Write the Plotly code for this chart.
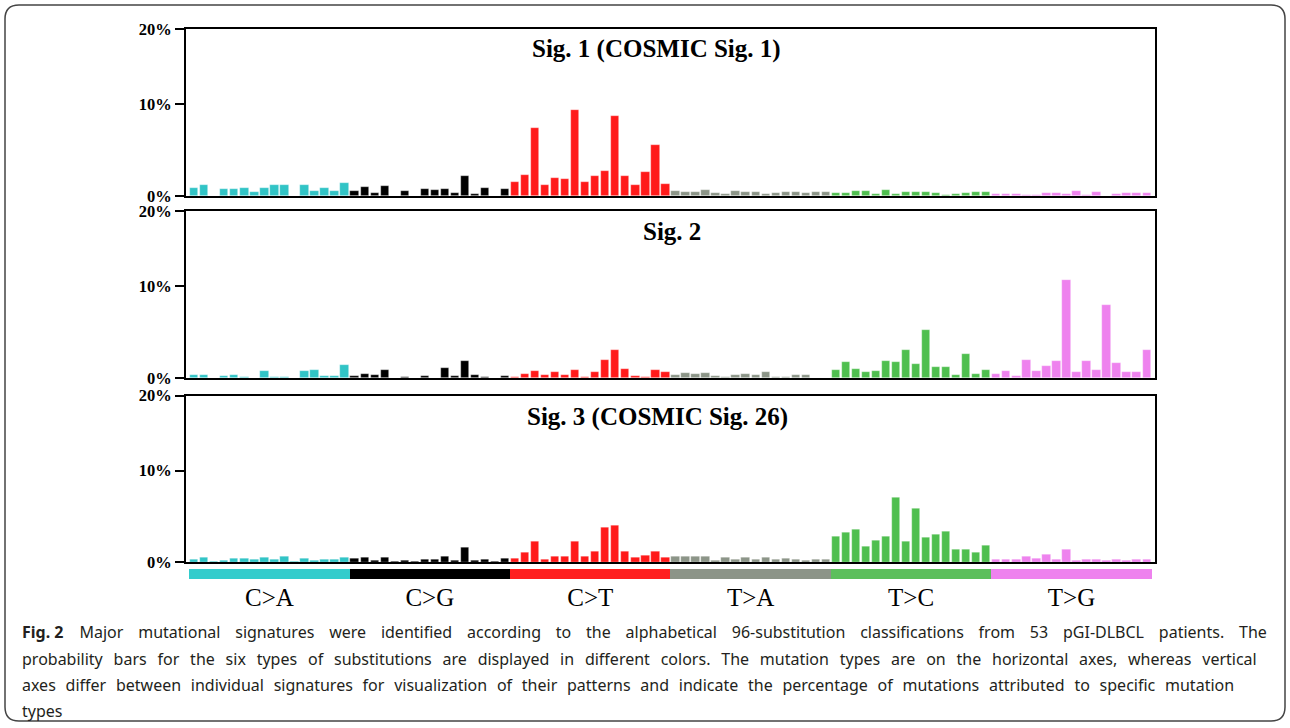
import plotly.graph_objects as go

# ---------------- data ----------------
groups = ["C>A", "C>G", "C>T", "T>A", "T>C", "T>G"]
group_colors = ["#31C4C6", "#000000", "#FF1A1A", "#8C9588", "#4FBF4F", "#EE82EE"]
strip_colors = ["#33CCCC", "#000000", "#FF1F1F", "#8C9488", "#5CBF5C", "#EE82EE"]

sig1_title = "Sig. 1 (COSMIC Sig. 1)"
sig2_title = "Sig. 2"
sig3_title = "Sig. 3 (COSMIC Sig. 26)"

sig1 = [0.90, 1.23, 0.05, 0.80, 0.72, 0.87, 0.40, 0.83, 1.23, 1.23, 0.05, 1.23, 0.58, 0.90, 0.54, 1.41,
        0.58, 0.98, 0.29, 1.05, 0.03, 0.50, 0.02, 0.76, 0.69, 0.80, 0.29, 2.20, 0.25, 0.87, 0.02, 0.80,
        1.52, 2.25, 7.40, 1.23, 1.96, 1.81, 9.38, 1.56, 2.17, 2.72, 8.70, 2.20, 1.23, 2.60, 5.54, 1.27,
        0.58, 0.47, 0.47, 0.69, 0.33, 0.18, 0.50, 0.40, 0.47, 0.22, 0.29, 0.43, 0.43, 0.29, 0.40, 0.43,
        0.29, 0.29, 0.54, 0.50, 0.18, 0.62, 0.25, 0.43, 0.40, 0.40, 0.29, 0.10, 0.18, 0.33, 0.40, 0.43,
        0.25, 0.25, 0.25, 0.14, 0.14, 0.36, 0.29, 0.25, 0.50, 0.10, 0.40, 0.03, 0.25, 0.33, 0.33, 0.33]

sig2 = [0.36, 0.33, 0.03, 0.22, 0.33, 0.15, 0.03, 0.72, 0.15, 0.10, 0.02, 0.80, 0.83, 0.22, 0.25, 1.41,
        0.22, 0.43, 0.29, 0.87, 0.02, 0.15, 0.02, 0.18, 0.02, 1.09, 0.18, 1.81, 0.33, 0.10, 0.02, 0.22,
        0.15, 0.43, 0.72, 0.36, 0.62, 0.29, 0.87, 0.07, 0.69, 1.96, 3.08, 0.98, 0.22, 0.15, 0.83, 0.69,
        0.33, 0.50, 0.40, 0.50, 0.22, 0.15, 0.29, 0.40, 0.29, 0.62, 0.15, 0.15, 0.33, 0.33, 0.02, 0.02,
        0.90, 1.74, 1.01, 0.69, 0.72, 1.81, 1.78, 3.00, 1.52, 5.18, 1.23, 1.20, 0.29, 2.60, 0.43, 0.83,
        0.47, 0.76, 0.22, 1.92, 0.80, 1.30, 1.81, 10.69, 0.69, 1.88, 0.83, 7.97, 1.63, 0.69, 0.69, 3.08]

sig3 = [0.22, 0.51, 0.02, 0.18, 0.36, 0.33, 0.22, 0.54, 0.25, 0.62, 0.02, 0.40, 0.14, 0.25, 0.29, 0.51,
        0.33, 0.51, 0.14, 0.54, 0.02, 0.14, 0.02, 0.22, 0.22, 0.58, 0.18, 1.56, 0.14, 0.29, 0.02, 0.36,
        0.36, 1.05, 2.21, 0.29, 0.62, 0.62, 2.25, 0.58, 1.16, 3.80, 4.02, 1.12, 0.47, 0.69, 1.12, 0.54,
        0.58, 0.58, 0.58, 0.58, 0.14, 0.54, 0.22, 0.47, 0.29, 0.54, 0.29, 0.36, 0.22, 0.18, 0.22, 0.22,
        2.79, 3.19, 3.51, 1.74, 2.39, 2.83, 7.03, 2.28, 5.87, 2.68, 3.00, 3.33, 1.38, 1.41, 1.05, 1.85,
        0.22, 0.22, 0.22, 0.62, 0.40, 0.87, 0.29, 1.41, 0.14, 0.22, 0.22, 0.11, 0.29, 0.11, 0.22, 0.22]

ytick_vals = [0, 10, 18.2]
ytick_text = ["0%", "10%", "20%"]

caption_lead = "<b>Fig. 2</b>"
caption_lines = [
    "Major mutational signatures were identified according to the alphabetical 96-substitution classifications from 53 pGI-DLBCL patients. The",
    "probability bars for the six types of substitutions are displayed in different colors. The mutation types are on the horizontal axes, whereas vertical",
    "axes differ between individual signatures for visualization of their patterns and indicate the percentage of mutations attributed to specific mutation",
    "types",
]
# word-gap strings approximating the justified caption lines
caption_gaps = [" \u2002\u2009", " \u2005\u2009", " \u2005\u200A", " "]

# ---------------- derived ----------------
n_per = 16
xs = list(range(len(groups) * n_per))
bar_colors = [group_colors[i // n_per] for i in xs]
strip_bar_colors = [strip_colors[i // n_per] for i in xs]
group_centers = [g * n_per + (n_per - 1) / 2 for g in range(len(groups))]

W, H = 1290, 728
def py(pix):
    return 1 - pix / H
def px(pix):
    return pix / W

x_dom = [px(186), px(1155)]
panel_doms = [[py(196), py(29)], [py(378), py(211)], [py(562), py(395.5)]]
strip_dom = [py(579), py(569)]
x_range = [-0.82, 95.83]

fig = go.Figure()
sigs = [sig1, sig2, sig3]
titles = [sig1_title, sig2_title, sig3_title]
title_x = [656, 672, 658]
title_y = [49, 232, 417]

for k, vals in enumerate(sigs):
    ax = "" if k == 0 else str(k + 1)
    fig.add_trace(go.Bar(
        x=xs, y=vals, width=0.83,
        marker=dict(color=bar_colors, line=dict(color="rgba(255,255,255,0.6)", width=0.6)),
        xaxis="x" + ax, yaxis="y" + ax, showlegend=False, hoverinfo="skip"))

fig.add_trace(go.Bar(
    x=xs, y=[1] * len(xs), width=1.0,
    marker=dict(color=strip_bar_colors, line=dict(width=0)),
    xaxis="x4", yaxis="y4", showlegend=False, hoverinfo="skip"))

layout = dict(
    width=W, height=H, autosize=False,
    margin=dict(l=0, r=0, t=0, b=0, pad=0, autoexpand=False),
    paper_bgcolor="white", plot_bgcolor="white",
    bargap=0,
)

serif = "Liberation Serif"
for k in range(3):
    sx = "" if k == 0 else str(k + 1)
    layout["xaxis" + sx] = dict(
        domain=x_dom, range=x_range, showticklabels=False, ticks="",
        showline=True, mirror=True, linecolor="black", linewidth=2,
        showgrid=False, zeroline=False, anchor="y" + sx, fixedrange=True,
        automargin=False)
    layout["yaxis" + sx] = dict(
        domain=panel_doms[k], range=[0, ytick_vals[-1]],
        tickvals=ytick_vals, ticktext=ytick_text,
        ticks="outside", ticklen=9, tickwidth=2, tickcolor="black",
        tickfont=dict(family=serif, size=16.5, color="black", weight="bold"),
        showline=True, mirror=True, linecolor="black", linewidth=2,
        showgrid=False, zeroline=False, anchor="x" + sx, fixedrange=True,
        automargin=False)

layout["xaxis4"] = dict(
    domain=x_dom, range=x_range, showline=False, showgrid=False, zeroline=False,
    tickvals=group_centers, ticktext=groups, ticks="", ticklabelstandoff=1,
    tickfont=dict(family=serif, size=25, color="black"),
    anchor="y4", fixedrange=True, automargin=False)
layout["yaxis4"] = dict(
    domain=strip_dom, range=[0, 1], visible=False, anchor="x4", fixedrange=True,
    automargin=False)

fig.update_layout(**layout)

for k in range(3):
    fig.add_annotation(
        x=px(title_x[k]), y=py(title_y[k]), xref="paper", yref="paper",
        text=titles[k], showarrow=False, xanchor="center", yanchor="middle",
        font=dict(family=serif, size=25, color="black", weight="bold"))

cap_y = [632, 659, 685, 711]
for i, line in enumerate(caption_lines):
    text = line.replace(" ", caption_gaps[i])
    if i == 0:
        text = caption_lead + "\u2002\u2002" + text
    fig.add_annotation(
        x=px(20), y=py(cap_y[i]), xref="paper", yref="paper",
        text=text, showarrow=False,
        xanchor="left", yanchor="middle", align="left",
        font=dict(family="Noto Sans", size=16, color="#231F20"))

# rounded border around the figure
x0, x1 = px(5), px(1285)
y0, y1 = py(721), py(5)
rx, ry = px(14), 14 / H
path = (f"M {x0+rx},{y1} L {x1-rx},{y1} Q {x1},{y1} {x1},{y1-ry} "
        f"L {x1},{y0+ry} Q {x1},{y0} {x1-rx},{y0} L {x0+rx},{y0} "
        f"Q {x0},{y0} {x0},{y0+ry} L {x0},{y1-ry} Q {x0},{y1} {x0+rx},{y1} Z")
fig.add_shape(type="path", path=path, xref="paper", yref="paper",
              line=dict(color="#444444", width=1.5), fillcolor="rgba(0,0,0,0)")

fig.write_html("out.html", config={"displayModeBar": False},
               post_script="document.body.style.margin='0';document.body.style.overflow='hidden';")
